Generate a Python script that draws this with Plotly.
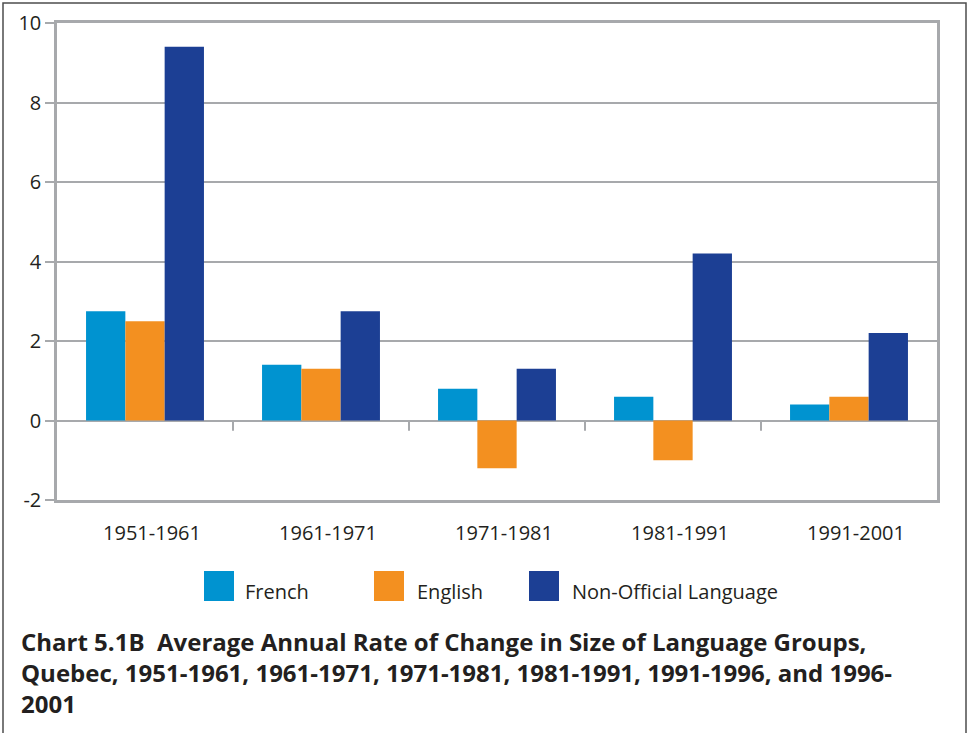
import plotly.graph_objects as go

categories = ["1951-1961", "1961-1971", "1971-1981", "1981-1991", "1991-2001"]
series_names = ["French", "English", "Non-Official Language"]
french = [2.75, 1.4, 0.8, 0.6, 0.4]
english = [2.5, 1.3, -1.2, -1.0, 0.6]
non_official = [9.4, 2.75, 1.3, 4.2, 2.2]
colors = ["#0093d0", "#f39020", "#1c3f94"]
y_ticks = [-2, 0, 2, 4, 6, 8, 10]
y_tick_text = ["-2", "0", "2", "4", "6", "8", "10"]
title_text = ("Chart 5.1B  Average Annual Rate of Change in Size of Language Groups,<br>"
              "Quebec, 1951-1961, 1961-1971, 1971-1981, 1981-1991, 1991-1996, and 1996-<br>2001")

W, H = 970, 733
L, R, T, B = 57, 937, 23, 500

def px(x):
    return (x - L) / (R - L)

def py(y):
    return (B - y) / (B - T)

fig = go.Figure()
for name, vals, col in zip(series_names, [french, english, non_official], colors):
    fig.add_trace(go.Bar(x=categories, y=vals, name=name, marker_color=col,
                         marker_line_width=0, showlegend=False))

grid = "#a7a9ac"
txt = "#231f20"
shapes = []
# outer frame
shapes.append(dict(type="rect", xref="paper", yref="paper",
                   x0=px(3), x1=px(966), y0=py(780), y1=py(3),
                   line=dict(color="#4d4d4d", width=1.5), fillcolor="rgba(0,0,0,0)", layer="below"))
# category separator ticks on zero line
for i in range(len(categories) - 1):
    shapes.append(dict(type="line", xref="x", yref="y", x0=i + 0.5, x1=i + 0.5,
                       y0=0, y1=-0.26, line=dict(color=grid, width=2)))
# legend squares and labels
leg_sq = [(204, 234), (374, 404), (529, 559)]
leg_tx = [243, 415, 570]
annotations = []
for (a, b), tx, name, col in zip(leg_sq, leg_tx, series_names, colors):
    shapes.append(dict(type="rect", xref="paper", yref="paper",
                       x0=px(a), x1=px(b), y0=py(601), y1=py(571),
                       fillcolor=col, line=dict(width=0)))
    annotations.append(dict(xref="paper", yref="paper", x=px(tx), y=py(591),
                            text=name, showarrow=False, xanchor="left", yanchor="middle",
                            font=dict(family="Open Sans", size=20, color=txt)))

annotations.append(dict(xref="paper", yref="paper", x=px(19), y=py(623),
                        text=title_text, showarrow=False, xanchor="left", yanchor="top",
                        align="left",
                        font=dict(family="Open Sans", size=24, color=txt, weight="bold")))

fig.update_layout(
    width=W, height=H,
    margin=dict(l=L, r=W - R, t=T, b=H - B, autoexpand=False),
    paper_bgcolor="white", plot_bgcolor="white",
    barmode="group", bargap=0.33, bargroupgap=0,
    shapes=shapes, annotations=annotations,
    font=dict(family="Open Sans", size=20, color=txt),
)
fig.update_xaxes(showline=True, mirror=True, linecolor=grid, linewidth=2.5,
                 ticks="", showgrid=False, ticklabelstandoff=13, ticklabelshift=7,
                 automargin=False,
                 tickfont=dict(family="Open Sans", size=20, color=txt))
fig.update_yaxes(range=[-2, 10], tickvals=y_ticks, ticktext=y_tick_text,
                 showline=True, mirror=True, automargin=False,
                 linecolor=grid, linewidth=2.5, showgrid=True, gridcolor=grid,
                 gridwidth=1.5, zeroline=True, zerolinecolor=grid, zerolinewidth=2,
                 ticks="outside", ticklen=9, tickcolor=grid, tickwidth=1.5,
                 tickfont=dict(family="Open Sans", size=20, color=txt))

fig.write_html("out.html", config={"displayModeBar": False},
               post_script="document.body.style.margin='0';document.body.style.overflow='hidden';")
